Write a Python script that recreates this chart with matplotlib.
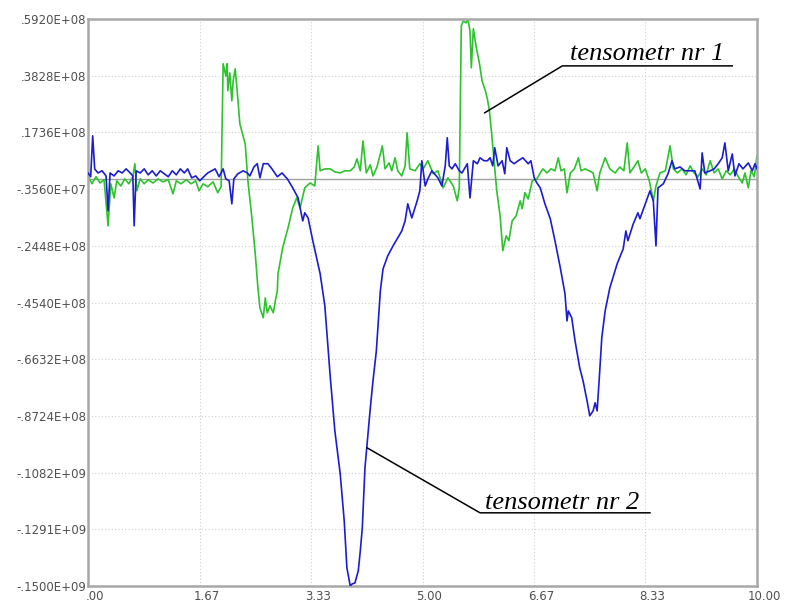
import matplotlib
matplotlib.use("Agg")
import matplotlib.pyplot as plt
from matplotlib.transforms import ScaledTranslation
import numpy as np

# tensometr nr 1 - czas [s], wartosc [x1e6]
t1_x = [0.00, 0.06, 0.12, 0.18, 0.24, 0.30, 0.34, 0.39, 0.43, 0.49, 0.55, 0.61, 0.67, 0.70, 0.73,
        0.78, 0.84, 0.90, 0.97, 1.05, 1.12, 1.20, 1.27, 1.32, 1.39, 1.47, 1.54, 1.61, 1.66, 1.72,
        1.79, 1.87, 1.94, 1.99, 2.02, 2.06, 2.08, 2.09, 2.12, 2.15, 2.17, 2.20, 2.23, 2.27, 2.35,
        2.39, 2.45, 2.50, 2.54, 2.57, 2.62, 2.65, 2.68, 2.72, 2.77, 2.80, 2.83, 2.84, 2.91, 2.99,
        3.06, 3.12, 3.17, 3.24, 3.32, 3.39, 3.44, 3.47, 3.54, 3.62, 3.69, 3.77, 3.84, 3.92, 3.98,
        4.02, 4.07, 4.11, 4.16, 4.22, 4.26, 4.32, 4.40, 4.44, 4.50, 4.54, 4.59, 4.63, 4.69, 4.74,
        4.77, 4.81, 4.89, 4.96, 5.01, 5.08, 5.16, 5.23, 5.31, 5.38, 5.46, 5.52, 5.55, 5.58, 5.61,
        5.65, 5.68, 5.71, 5.73, 5.76, 5.80, 5.85, 5.89, 5.94, 5.97, 6.00, 6.03, 6.07, 6.11, 6.16,
        6.20, 6.25, 6.29, 6.34, 6.40, 6.46, 6.49, 6.53, 6.58, 6.64, 6.71, 6.76, 6.80, 6.86, 6.92,
        6.98, 7.03, 7.07, 7.12, 7.16, 7.21, 7.27, 7.33, 7.37, 7.43, 7.49, 7.55, 7.61, 7.65, 7.73,
        7.80, 7.88, 7.95, 8.01, 8.06, 8.10, 8.16, 8.22, 8.27, 8.33, 8.39, 8.45, 8.49, 8.55, 8.63,
        8.70, 8.75, 8.81, 8.88, 8.94, 9.00, 9.06, 9.12, 9.18, 9.24, 9.30, 9.36, 9.42, 9.48, 9.54,
        9.60, 9.66, 9.72, 9.78, 9.82, 9.87, 9.91, 9.96, 10.00]
t1_y = [1.3, -1.6, 1.0, -1.3, -0.1, -17.1, -1.6, -6.8, -0.5, -2.4, 0.2, -1.6, 1.0, 5.8, -4.2,
        0.2, -1.6, -0.1, -1.3, 0.2, -0.9, -0.1, -5.3, -0.5, -1.6, -0.1, -1.6, -0.5, -4.2, -1.6,
        -2.7, -0.9, -4.9, -2.7, 42.7, 38.2, 42.7, 32.7, 39.3, 29.0, 36.4, 40.8, 32.7, 20.5, 13.1,
        -0.5, -14.2, -27.4, -40.0, -47.4, -51.0, -43.7, -49.2, -46.6, -49.2, -44.8, -41.1, -34.8, -25.2, -17.9,
        -10.5, -6.8, -10.5, -3.1, -1.3, -2.4, 12.4, 3.2, 3.9, 3.9, 2.8, 2.4, 3.2, 3.2, 4.6,
        7.6, 3.2, 14.2, 2.4, 5.4, 1.3, 4.6, 12.4, 3.9, 6.1, 3.2, 8.0, 3.2, 1.3, 5.0,
        17.2, 3.9, 3.2, 5.8, 3.9, 6.9, 2.1, 3.2, -3.1, 0.6, -2.4, -7.9, -3.1, 56.7, 58.5,
        57.8, 58.9, 54.8, 41.2, 55.6, 49.3, 43.0, 36.4, 32.7, 29.7, 25.3, 17.9, 6.9, -4.2, -13.4,
        -26.3, -20.8, -22.6, -15.3, -13.4, -7.9, -10.8, -4.9, -7.2, -0.5, 0.2, 2.4, 3.9, 2.4, 3.9,
        3.2, 8.0, 3.2, 3.9, -4.9, 2.4, 3.9, 8.0, 3.2, 3.9, 3.2, 2.4, -4.2, 2.4, 8.0,
        3.9, 2.4, 4.6, 3.2, 13.5, 2.4, 4.6, 6.9, 2.4, 3.9, -0.5, -7.9, -2.4, 2.4, 3.2,
        12.4, 3.9, 2.4, 3.9, 1.7, 5.0, 2.4, 1.0, 3.9, 1.7, 6.9, 2.4, 3.9, 0.2, 3.2,
        1.7, 3.9, 1.0, -1.3, 2.4, -3.1, 3.2, 1.0, 8.7]

# tensometr nr 2
t2_x = [0.00, 0.04, 0.07, 0.10, 0.15, 0.21, 0.27, 0.30, 0.33, 0.39, 0.45, 0.51, 0.57, 0.63, 0.67,
        0.69, 0.72, 0.78, 0.84, 0.90, 0.96, 1.02, 1.08, 1.14, 1.20, 1.26, 1.32, 1.38, 1.44, 1.49,
        1.55, 1.61, 1.67, 1.73, 1.79, 1.85, 1.90, 1.96, 2.02, 2.06, 2.11, 2.15, 2.18, 2.24, 2.32,
        2.38, 2.42, 2.48, 2.53, 2.57, 2.62, 2.69, 2.75, 2.83, 2.90, 2.98, 3.06, 3.14, 3.17, 3.21,
        3.24, 3.29, 3.36, 3.47, 3.54, 3.62, 3.69, 3.77, 3.83, 3.87, 3.92, 3.95, 3.99, 4.04, 4.07,
        4.10, 4.14, 4.19, 4.22, 4.26, 4.31, 4.34, 4.37, 4.41, 4.48, 4.56, 4.63, 4.69, 4.74, 4.78,
        4.84, 4.92, 4.96, 4.99, 5.04, 5.08, 5.14, 5.23, 5.29, 5.34, 5.37, 5.40, 5.44, 5.49, 5.55,
        5.59, 5.67, 5.71, 5.76, 5.82, 5.86, 5.92, 5.97, 6.01, 6.05, 6.08, 6.13, 6.19, 6.23, 6.26,
        6.31, 6.37, 6.43, 6.50, 6.58, 6.62, 6.67, 6.71, 6.76, 6.83, 6.91, 6.98, 7.06, 7.13, 7.16,
        7.18, 7.23, 7.28, 7.35, 7.40, 7.46, 7.50, 7.55, 7.58, 7.61, 7.64, 7.68, 7.73, 7.80, 7.91,
        8.00, 8.04, 8.07, 8.15, 8.22, 8.25, 8.33, 8.40, 8.45, 8.49, 8.52, 8.60, 8.67, 8.73, 8.77,
        8.85, 8.92, 9.00, 9.07, 9.15, 9.18, 9.22, 9.30, 9.36, 9.42, 9.48, 9.52, 9.57, 9.63, 9.67,
        9.73, 9.79, 9.87, 9.93, 9.97, 10.00]
t2_y = [2.4, 1.0, 16.1, 3.9, 2.4, 3.2, 1.3, -11.6, 2.4, 1.3, 3.2, 2.4, 3.9, 2.4, 1.3,
        -17.1, 3.2, 2.4, 3.9, 1.7, 3.2, 1.3, 3.2, 2.1, 1.0, 3.2, 1.7, 3.9, 2.4, 3.9,
        0.6, 1.3, -0.5, 1.0, 2.4, 3.2, 3.9, 1.0, 3.9, 0.2, -0.5, -9.0, 0.2, 2.1, 3.2,
        2.4, 1.3, 4.6, 5.8, 0.6, 5.8, 5.8, 3.9, 1.0, 2.4, 0.2, -3.1, -6.8, -10.5, -15.3,
        -12.3, -14.2, -22.6, -34.8, -46.6, -72.5, -92.8, -108.6, -126.0, -143.3, -150.0, -149.2, -148.9, -144.4, -137.1,
        -128.6, -106.4, -92.8, -84.3, -74.3, -63.3, -52.2, -41.1, -33.0, -28.2, -24.5, -21.5, -19.0, -15.3, -9.0,
        -14.2, -7.9, -4.2, 6.9, -2.4, 0.2, 3.2, 0.6, -2.4, 5.0, 15.4, 5.0, 3.9, 5.8, 3.2,
        2.4, 5.8, -6.8, 6.9, 5.8, 8.0, 6.9, 6.9, 8.0, 5.0, 11.7, 5.0, 6.9, 2.1, 11.7,
        6.9, 5.8, 6.9, 8.0, 5.8, 6.9, 0.6, -1.3, -3.1, -9.0, -14.5, -22.6, -32.6, -42.2, -52.2,
        -48.5, -51.0, -59.5, -69.5, -74.3, -81.7, -87.2, -85.4, -82.4, -85.4, -74.3, -58.4, -48.5, -40.0, -31.1,
        -25.6, -19.0, -22.6, -16.4, -12.3, -14.5, -9.0, -4.2, -7.9, -24.5, -3.1, -1.6, 2.1, 6.9, 3.9,
        4.6, 3.2, 3.2, 3.2, -3.5, 9.8, 2.4, 3.2, 3.9, 5.8, 8.0, 13.5, 3.2, 9.4, 1.3,
        5.8, 3.9, 6.1, 3.2, 5.8, 3.9]

x_ticks = [0.0, 1.67, 3.33, 5.0, 6.67, 8.33, 10.0]
x_labels = [".00", "1.67", "3.33", "5.00", "6.67", "8.33", "10.00"]
y_ticks = [5.92e7, 3.828e7, 1.736e7, -3.56e6, -2.448e7, -4.54e7, -6.632e7,
           -8.724e7, -1.082e8, -1.291e8, -1.5e8]
y_labels = [".5920E+08", ".3828E+08", ".1736E+08", "-.3560E+07", "-.2448E+08", "-.4540E+08",
            "-.6632E+08", "-.8724E+08", "-.1082E+09", "-.1291E+09", "-.1500E+09"]

fig = plt.figure(figsize=(7.87, 6.06), dpi=100)
ax = fig.add_axes([88 / 787, 1 - 586 / 606, (757 - 88) / 787, (586 - 19) / 606])

# siatka i linia zerowa
for xt in x_ticks[1:-1]:
    ax.axvline(xt, color="#cfcfcf", lw=0.8, ls=(0, (1, 2)), zorder=0)
for yt in y_ticks[1:-1]:
    ax.axhline(yt, color="#cfcfcf", lw=0.8, ls=(0, (1, 2)), zorder=0)
ax.axhline(0, color="#a0a0a0", lw=1.0, zorder=1)

ax.plot(t1_x, np.array(t1_y) * 1e6, color="#2ec22e", lw=1.2, zorder=2)
ax.plot(t2_x, np.array(t2_y) * 1e6, color="#1c1cd0", lw=1.2, zorder=3)

ax.set_xlim(0, 10)
ax.set_ylim(-1.5e8, 5.92e7)
ax.set_xticks(x_ticks)
ax.set_xticklabels(x_labels)
ax.set_yticks(y_ticks)
ax.set_yticklabels(y_labels)
ax.tick_params(axis="both", length=0, labelsize=8.5, labelcolor="#505050")
ax.tick_params(axis="y", pad=1)
ax.tick_params(axis="x", pad=3)
for lab in ax.get_xticklabels():
    lab.set_transform(lab.get_transform() + ScaledTranslation(7 / 100, 0, fig.dpi_scale_trans))

for s in ax.spines.values():
    s.set_color("#a8a8a8")
    s.set_linewidth(1.8)

# opisy krzywych
txt = dict(family="Liberation Serif", style="italic", fontsize=19, color="black", va="baseline")
ax.plot([5.93, 7.09, 9.63], [24.6e6, 41.9e6, 41.9e6], color="black", lw=1.1, clip_on=False, zorder=4)
ax.text(7.20, 43.9e6, "tensometr nr 1", **txt)
ax.plot([4.17, 5.86, 8.40], [-99.0e6, -123.0e6, -123.0e6], color="black", lw=1.1, clip_on=False, zorder=4)
ax.text(5.93, -121.6e6, "tensometr nr 2", **txt)

plt.savefig("out.png", dpi=100)
